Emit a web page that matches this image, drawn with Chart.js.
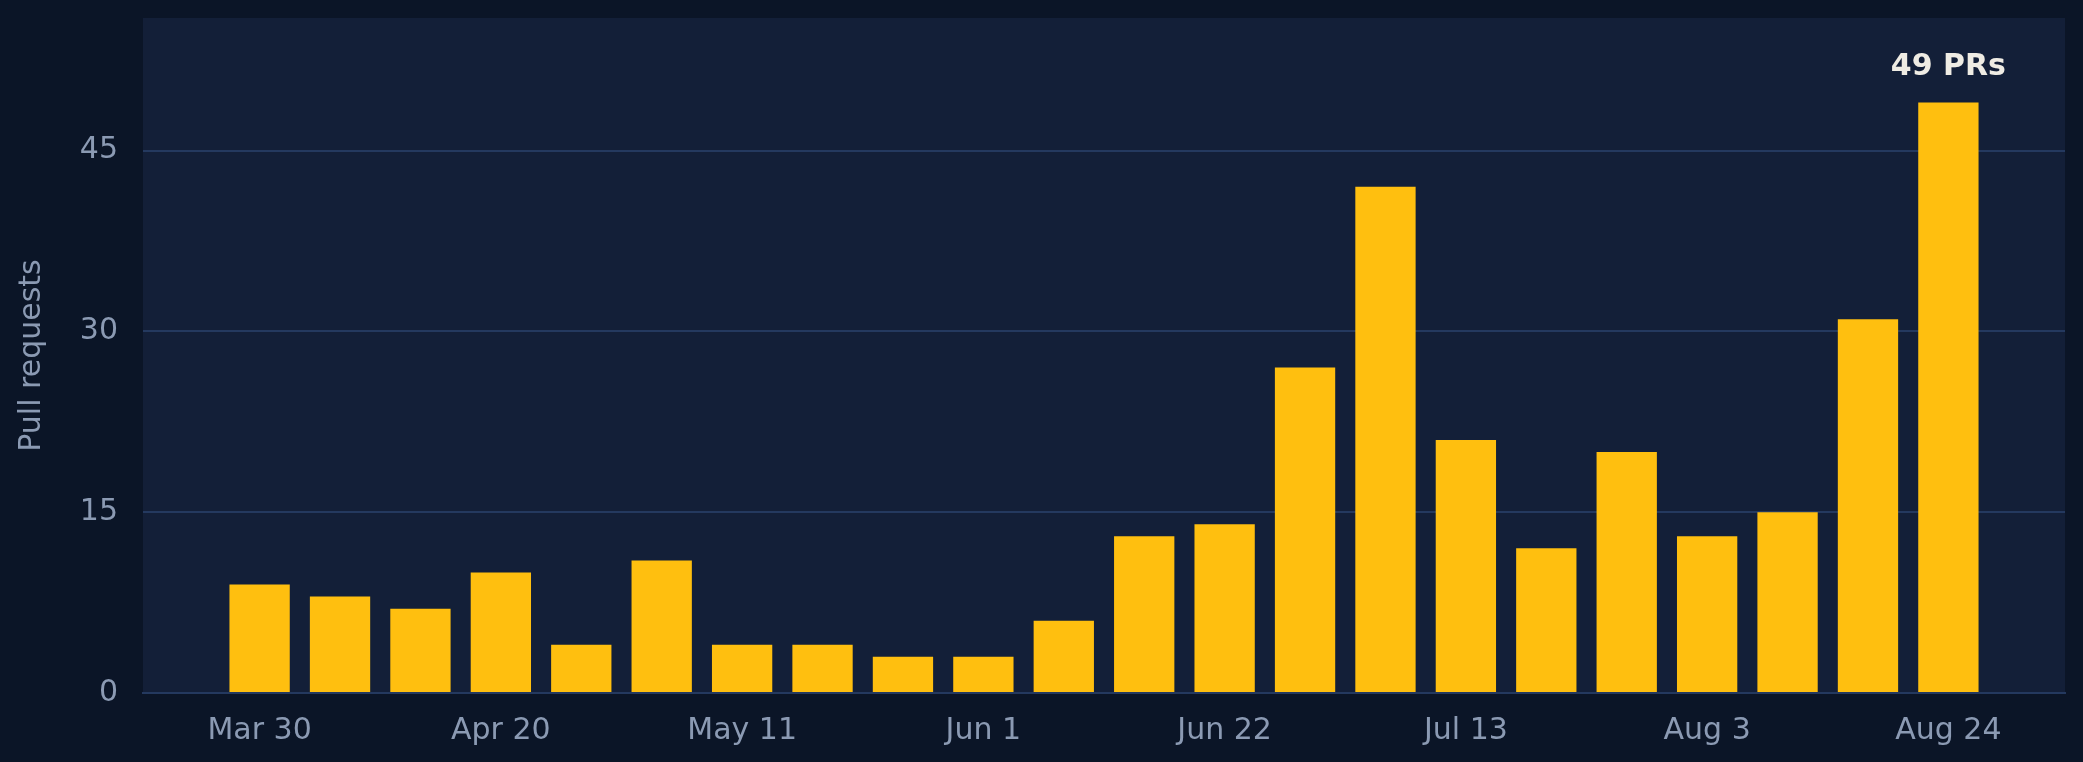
<!DOCTYPE html>
<html>
<head>
<meta charset="utf-8">
<script src="https://cdn.jsdelivr.net/npm/chart.js@4"></script>
<style>
  html, body { margin: 0; padding: 0; background: #0b1527; }
  canvas { display: block; }
</style>
</head>
<body>
<canvas id="prChart" width="2083" height="762"></canvas>
<script>
let weeks = ["Mar 30", "Apr 6", "Apr 13", "Apr 20", "Apr 27", "May 4", "May 11", "May 18",
  "May 25", "Jun 1", "Jun 8", "Jun 15", "Jun 22", "Jun 29", "Jul 6", "Jul 13",
  "Jul 20", "Jul 27", "Aug 3", "Aug 10", "Aug 17", "Aug 24"];
let pullRequests = [9, 8, 7, 10, 4, 11, 4, 4, 3, 3, 6, 13, 14, 27, 42, 21, 12, 20, 13, 15, 31, 49];
let yTicks = [0, 15, 30, 45];
let peakLabel = "49 PRs";

let fontFamily = "DejaVu Sans";
let fontSize = 30;

// plot area fill + label over the tallest bar
let plotBg = {
  id: "plotBg",
  beforeDraw: (chart) => {
    let { ctx, chartArea } = chart;
    ctx.save();
    ctx.fillStyle = "#131f38";
    ctx.fillRect(chartArea.left, chartArea.top, chartArea.right - chartArea.left, chartArea.bottom - chartArea.top);
    ctx.restore();
  },
  afterDatasetsDraw: (chart) => {
    let ctx = chart.ctx;
    let peak = pullRequests.indexOf(Math.max(...pullRequests));
    let bar = chart.getDatasetMeta(0).data[peak];
    ctx.save();
    ctx.fillStyle = "#efece4";
    ctx.font = "bold " + fontSize + "px '" + fontFamily + "'";
    ctx.textAlign = "center";
    ctx.textBaseline = "alphabetic";
    ctx.fillText(peakLabel, bar.x, bar.y - 27);
    ctx.restore();
  },
};

new Chart(document.querySelector("#prChart"), {
  type: "bar",
  data: {
    datasets: [
      {
        data: pullRequests.map((v, i) => ({ x: i, y: v })),
        backgroundColor: "#ffbf0f",
        borderWidth: 0,
        barPercentage: 0.75,
        categoryPercentage: 1,
      },
    ],
  },
  options: {
    responsive: false,
    animation: false,
    devicePixelRatio: 1,
    layout: {
      padding: { top: 18, right: 18, bottom: 0, left: 0 },
    },
    scales: {
      x: {
        type: "linear",
        offset: false,
        min: -1.45,
        max: weeks.length - 1 + 1.45,
        afterFit: (scale) => {
          scale.height = 69;
          scale.paddingLeft = 0;
          scale.paddingRight = 0;
        },
        grid: { display: false, offset: false },
        border: { display: true, color: "#24395f", width: 2 },
        ticks: {
          stepSize: 3,
          includeBounds: false,
          padding: 12,
          color: "#8b9ab3",
          font: { size: fontSize, family: fontFamily },
          callback: (value) => weeks[value],
        },
      },
      y: {
        min: 0,
        max: 56,
        afterFit: (scale) => {
          scale.width = 143;
          scale.paddingTop = 0;
          scale.paddingBottom = 0;
        },
        afterBuildTicks: (scale) => {
          scale.ticks = yTicks.map((v) => ({ value: v }));
        },
        grid: {
          color: (c) => (c.tick && c.tick.value === 0 ? "rgba(0,0,0,0)" : "#24395f"),
          lineWidth: 2,
          drawTicks: false,
        },
        border: { display: false },
        ticks: {
          padding: 25,
          color: "#8b9ab3",
          font: { size: fontSize, family: fontFamily },
        },
        title: {
          display: true,
          text: "Pull requests",
          color: "#8b9ab3",
          font: { size: fontSize, family: fontFamily },
          padding: { top: 14, bottom: 0 },
        },
      },
    },
    plugins: {
      legend: { display: false },
      tooltip: { enabled: false },
    },
  },
  plugins: [plotBg],
});
</script>
</body>
</html>
